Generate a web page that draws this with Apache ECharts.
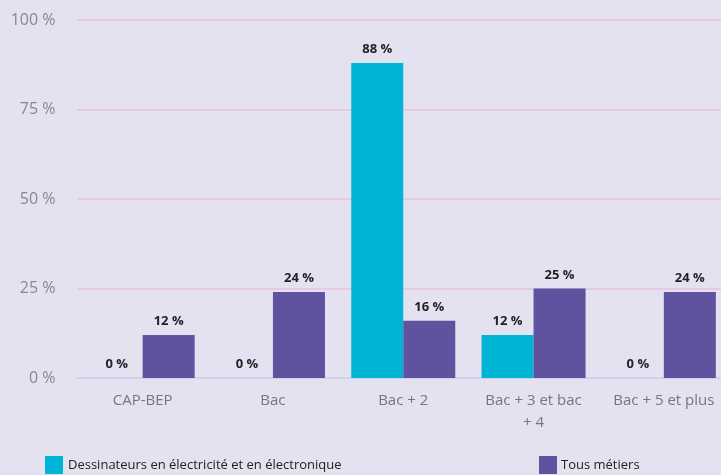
<!DOCTYPE html>
<html>
<head>
<meta charset="utf-8">
<script src="https://cdn.jsdelivr.net/npm/echarts@6/dist/echarts.min.js"></script>
<style>
html,body{margin:0;padding:0;background:#e4e1f0;overflow:hidden;}
#c{width:729px;height:475px;}
</style>
</head>
<body>
<div id="c"></div>
<script>
const categories = ['CAP-BEP', 'Bac', 'Bac + 2', 'Bac + 3 et bac\n+ 4', 'Bac + 5 et plus'];
const dessinateurs = [0, 0, 88, 12, 0];
const tousMetiers = [12, 24, 16, 25, 24];
const yTicks = { min: 0, max: 100, interval: 25 };
const seriesNames = ['Dessinateurs en électricité et en électronique', 'Tous métiers'];

const font = '"Open Sans", sans-serif';
const labelStyle = {
  show: true, position: 'top', distance: 7,
  formatter: p => p.value + ' %',
  color: '#222', fontWeight: 'bold', fontSize: 13, fontFamily: font
};

const chart = echarts.init(document.getElementById('c'), null, { renderer: 'canvas' });
chart.setOption({
  backgroundColor: '#e4e1f0',
  animation: false,
  grid: { left: 77.5, right: 0, top: 20, bottom: 97 },
  legend: [
    { data: [seriesNames[0]], left: 45, top: 456, padding: 0, itemWidth: 18, itemHeight: 18,
      icon: 'rect', textStyle: { color: '#222', fontSize: 13, fontFamily: font } },
    { data: [seriesNames[1]], left: 539, top: 456, padding: 0, itemWidth: 18, itemHeight: 18,
      icon: 'rect', textStyle: { color: '#222', fontSize: 13, fontFamily: font, padding: [0,0,0,-1] } }
  ],
  xAxis: {
    type: 'category', data: categories,
    axisLine: { show: true, lineStyle: { color: '#cdd3ea', width: 2 } },
    axisTick: { show: false },
    axisLabel: { color: '#777', fontSize: 15, fontFamily: font, margin: 12, lineHeight: 22, interval: 0 }
  },
  yAxis: {
    type: 'value', min: yTicks.min, max: yTicks.max, interval: yTicks.interval,
    axisLine: { show: false }, axisTick: { show: false },
    axisLabel: { formatter: '{value} %', color: '#888', fontSize: 16, fontFamily: font, margin: 22 },
    splitLine: { lineStyle: { color: '#e2c3df', width: 1.5 } }
  },
  series: [
    { name: seriesNames[0], type: 'bar', data: dessinateurs, barWidth: 52, barGap: '0%',
      itemStyle: { color: '#00b4d5' }, label: labelStyle },
    { name: seriesNames[1], type: 'bar', data: tousMetiers, barWidth: 52, barGap: '0%',
      itemStyle: { color: '#5f529f' }, label: labelStyle }
  ]
});
</script>
</body>
</html>
